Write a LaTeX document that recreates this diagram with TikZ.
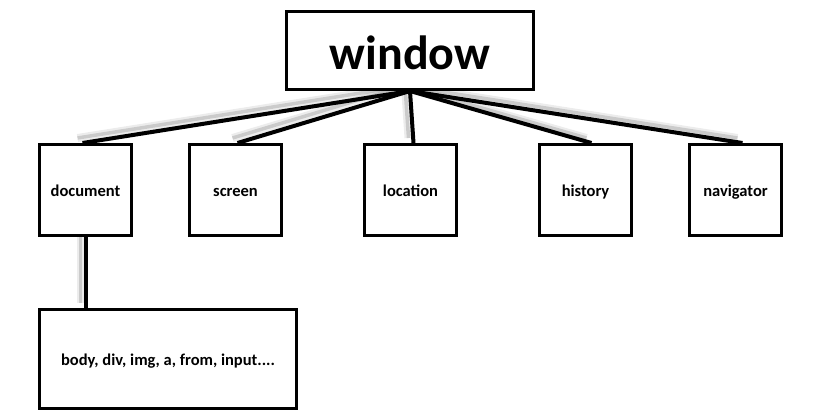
\documentclass[tikz,border=0pt]{standalone}
\usepackage{fontspec}
\setmainfont{Carlito}
\usetikzlibrary{backgrounds}

\begin{document}
\begin{tikzpicture}[x=1pt, y=-1pt,
    box/.style={draw, line width=3pt, fill=white, inner sep=0pt,
        minimum width=92pt, minimum height=91pt,
        text height=16pt, text depth=4pt,
        font=\fontsize{16.5}{19}\selectfont\bfseries},
    link/.style={line width=4pt},
    glow/.style={draw=gray, line width=8pt, opacity=0.15,
        transform canvas={xshift=-5pt, yshift=5pt},
        postaction={draw=gray, line width=3.5pt, opacity=0.3}}]
                \useasboundingbox (0, 0) rectangle (820, 418);

                \node[box, minimum width=247pt, minimum height=78pt,
                    text height=42pt, text depth=5pt,
                    font=\fontsize{48}{56}\selectfont\bfseries] (W) at (410, 50.5) {window};

                \node[box] (A1) at (85.5, 190) {document};
                \node[box] (A2) at (235.5, 190) {screen};
                \node[box] (A3) at (410.5, 190) {location};
                \node[box] (A4) at (585.5, 190) {history};
                \node[box] (A5) at (735.5, 190) {navigator};

                \node[box, minimum width=257pt, minimum height=99pt] (B1) at (168, 359) {body, div, img, a, from, input....};

                \begin{scope}[on background layer]
                \draw[glow] (W.south) -- ([xshift=-3pt]A1.north);
                \draw[glow] (W.south) -- ([xshift=2pt]A2.north);
                \draw[glow] (W.south) -- ([xshift=3pt]A3.north);
                \draw[glow] (W.south) -- ([xshift=6pt]A4.north);
                \draw[glow] (W.south) -- ([xshift=7pt]A5.north);
                \draw[glow] (A1.south) -- (A1.south |- B1.north);
                \end{scope}

                \draw[link] (W.south) -- ([xshift=-3pt]A1.north);
                \draw[link] (W.south) -- ([xshift=2pt]A2.north);
                \draw[link] (W.south) -- ([xshift=3pt]A3.north);
                \draw[link] (W.south) -- ([xshift=6pt]A4.north);
                \draw[link] (W.south) -- ([xshift=7pt]A5.north);

                \draw[link] (A1.south) -- (A1.south |- B1.north);
            \end{tikzpicture}
\end{document}
